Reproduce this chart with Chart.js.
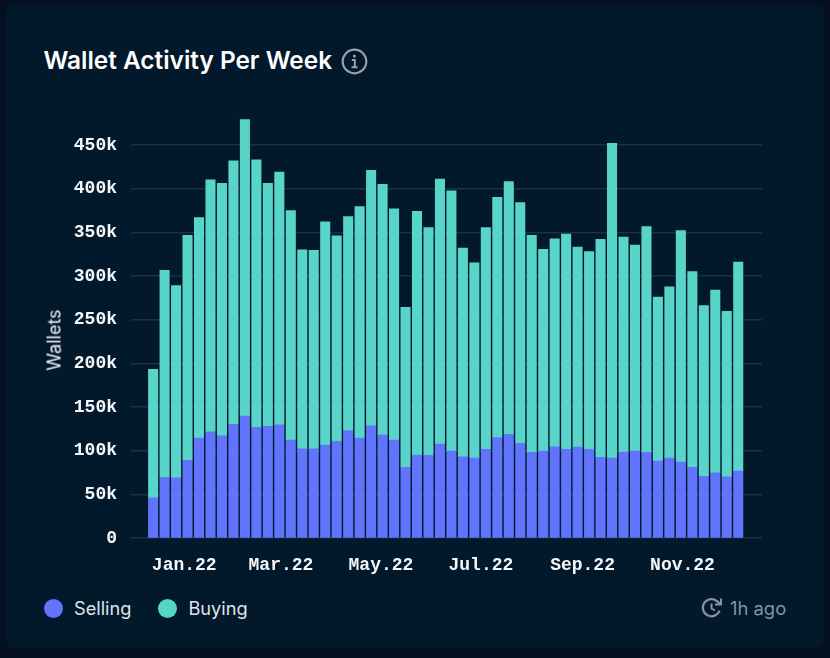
<!DOCTYPE html>
<html>
<head>
<meta charset="utf-8">
<title>Wallet Activity Per Week</title>
<script src="https://cdn.jsdelivr.net/npm/chart.js@4"></script>
<style>
  html, body { margin: 0; width: 830px; height: 658px; overflow: hidden; background: #04101f; font-family: Inter, sans-serif; }
  #card { position: absolute; left: 6px; top: 5px; width: 818px; height: 643px; background: #02182b; border-radius: 8px; }
  #title { position: absolute; left: 43.5px; top: 45px; color: #fff; font-size: 24.4px; font-weight: 600; line-height: 30px; white-space: nowrap; }
  #info { position: absolute; left: 341px; top: 48px; }
  #wrap { position: absolute; left: 40px; top: 94px; width: 730px; height: 486px; }
  #yTitle { position: absolute; left: 54px; top: 340px; transform: translate(-50%, -50%) rotate(-90deg); color: #eef1f4; font-size: 18px; white-space: nowrap; }
  #legend { position: absolute; left: 44px; top: 596px; height: 24px; display: flex; align-items: center; color: #dfe4ea; font-size: 18.2px; }
  #legend i { width: 19px; height: 19px; border-radius: 50%; margin-right: 11px; }
  #legend span { margin-right: 27px; }
  #ago { position: absolute; left: 730px; top: 596px; line-height: 24px; color: #8793a0; font-size: 18.4px; }
  #clock { position: absolute; left: 701px; top: 597px; }
</style>
</head>
<body>
<div id="card"></div>
<div id="title">Wallet Activity Per Week</div>
<svg id="info" width="27" height="27" viewBox="0 0 27 27" fill="none" stroke="#98a2ac">
  <circle cx="13.5" cy="13.5" r="11.8" stroke-width="2.2"/>
  <path d="M10.8 12h3v7M10.5 19.2h6" stroke-width="2"/>
  <circle cx="13.4" cy="7.9" r="1.5" fill="#98a2ac" stroke="none"/>
</svg>
<div id="wrap"><canvas id="graficoCarteiras"></canvas></div>
<div id="yTitle">Wallets</div>
<div id="legend"></div>
<svg id="clock" width="22" height="22" viewBox="0 0 22 22" fill="none" stroke="#8793a0" stroke-width="2.2">
  <path d="M18.6 13.5A8.6 8.6 0 1 1 16.4 4.4L19 7"/>
  <path d="M20 1.5V7.6H14" stroke-width="2"/>
  <path d="M10.5 6.5v5l3.5 2" stroke-width="2"/>
</svg>
<div id="ago">1h ago</div>

<script>
const weeks = [
  '2021-12-13','2021-12-20','2021-12-27','2022-01-03','2022-01-10','2022-01-17','2022-01-24','2022-01-31',
  '2022-02-07','2022-02-14','2022-02-21','2022-02-28','2022-03-07','2022-03-14','2022-03-21','2022-03-28',
  '2022-04-04','2022-04-11','2022-04-18','2022-04-25','2022-05-02','2022-05-09','2022-05-16','2022-05-23',
  '2022-05-30','2022-06-06','2022-06-13','2022-06-20','2022-06-27','2022-07-04','2022-07-11','2022-07-18',
  '2022-07-25','2022-08-01','2022-08-08','2022-08-15','2022-08-22','2022-08-29','2022-09-05','2022-09-12',
  '2022-09-19','2022-09-26','2022-10-03','2022-10-10','2022-10-17','2022-10-24','2022-10-31','2022-11-07',
  '2022-11-14','2022-11-21','2022-11-28','2022-12-05'
];
const selling = [
  46000,69500,69000,89000,114500,121500,117000,130000,139500,126500,128000,129500,112000,
  102000,102000,106500,110500,123000,114500,128500,118000,112000,81000,95000,94500,107500,
  99500,93000,91500,101500,115000,118500,108500,98000,99500,104500,101500,104000,101500,
  92500,91500,98500,99500,98000,88000,91500,87000,81000,70500,74500,70000,76500
];
const buying = [
  147000,237000,220000,257500,252500,288500,289000,302000,339500,306500,278000,289500,263000,
  228000,227500,255500,235500,245000,265000,292500,287000,265000,183000,279000,261000,303500,
  298000,239000,223500,254000,275000,289500,275500,248500,231000,238000,246500,229000,226500,
  249500,360500,246000,236000,258500,188000,196000,265000,224000,195500,209500,189500,239500
];
const tickDates = ['2022-01-01','2022-03-01','2022-05-01','2022-07-01','2022-09-01','2022-11-01'];
const tickLabels = ['Jan.22','Mar.22','May.22','Jul.22','Sep.22','Nov.22'];
const yTicks = [0, 50000, 100000, 150000, 200000, 250000, 300000, 350000, 400000, 450000];
const xMin = '2021-11-29T12:00Z';
const xMax = '2022-12-19T12:00Z';

const COR_SELLING = '#6074fe';
const COR_BUYING = '#59d4c8';
const FONTE_TICKS = { family: '"Liberation Mono", monospace', size: 18, weight: 'bold' };

const pontos = valores => valores.map((v, i) => ({ x: Date.parse(weeks[i]), y: v }));

const series = [
  { label: 'Selling', data: pontos(selling), backgroundColor: COR_SELLING, barThickness: 9.4 },
  { label: 'Buying', data: pontos(buying), backgroundColor: COR_BUYING, barThickness: 9.4 }
];

const ctx = document.getElementById('graficoCarteiras').getContext('2d');
new Chart(ctx, {
  type: 'bar',
  data: { datasets: series },
  options: {
    responsive: true,
    maintainAspectRatio: false,
    animation: false,
    layout: { padding: { top: 11, right: 8 } },
    plugins: { legend: { display: false }, tooltip: { enabled: false } },
    scales: {
      x: {
        type: 'linear',
        offset: false,
        stacked: true,
        min: Date.parse(xMin),
        max: Date.parse(xMax),
        grid: { display: false },
        border: { display: false },
        afterBuildTicks: scale => { scale.ticks = tickDates.map(d => ({ value: Date.parse(d) })); },
        afterFit: scale => { scale.height = 42; },
        ticks: {
          autoSkip: false,
          maxRotation: 0,
          padding: 9,
          color: '#f4f6f8',
          font: FONTE_TICKS,
          callback: (valor, i) => tickLabels[i]
        }
      },
      y: {
        stacked: true,
        min: 0,
        max: 480000,
        afterBuildTicks: scale => { scale.ticks = yTicks.map(v => ({ value: v })); },
        afterFit: scale => { scale.width = 91; },
        grid: { color: '#1a3149', lineWidth: 1.4, drawTicks: false },
        border: { display: false },
        ticks: {
          padding: 14,
          color: '#f4f6f8',
          font: FONTE_TICKS,
          callback: v => v === 0 ? '0' : (v / 1000) + 'k'
        }
      }
    }
  }
});

const elLegenda = document.getElementById('legend');
series.forEach(s => {
  const bola = document.createElement('i');
  bola.style.background = s.backgroundColor;
  const nome = document.createElement('span');
  nome.textContent = s.label;
  elLegenda.append(bola, nome);
});
</script>
</body>
</html>
